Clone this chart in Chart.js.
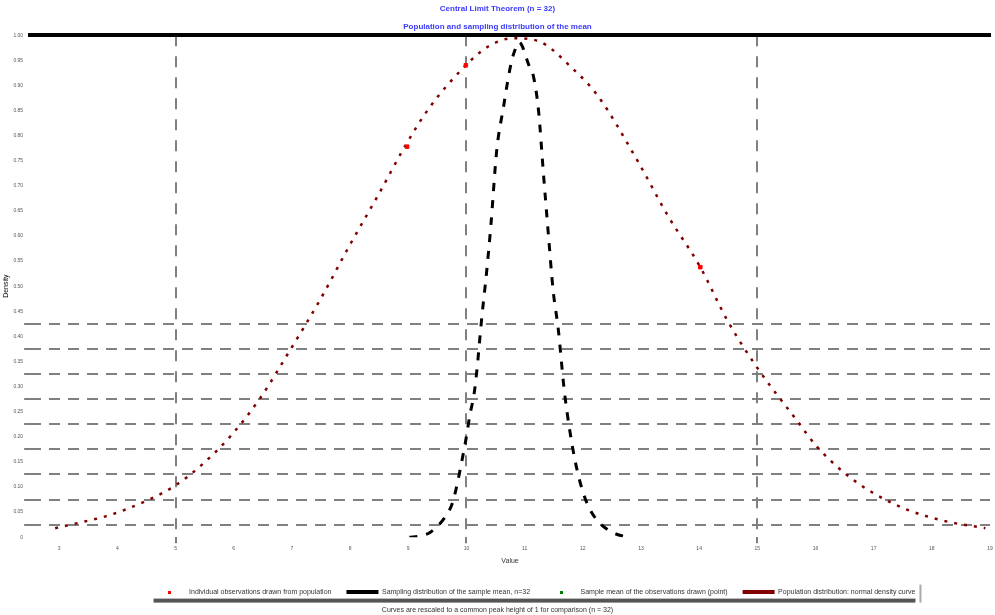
<!DOCTYPE html>
<html>
<head>
<meta charset="utf-8">
<script src="https://cdn.jsdelivr.net/npm/chart.js@4.4.0/dist/chart.umd.min.js"></script>
<style>
  html, body { margin: 0; padding: 0; background: #fff; }
  #wrap { width: 995px; height: 615px; }
</style>
</head>
<body>
<div id="wrap"><canvas id="myChart"></canvas></div>
<script>
// population curve
const popX = [2.93, 3.39, 3.81, 4.16, 4.58, 4.97, 5.44, 5.95, 6.46, 6.97, 7.48, 7.99, 8.51, 8.93, 9.36, 9.99,
  10.38, 10.81, 11.24, 11.83, 12.26, 12.94, 13.46, 14.02, 14.48, 14.99, 15.67, 16.02, 16.53, 16.95, 17.55, 18.23, 18.92];
const popY = [0.018, 0.030, 0.042, 0.056, 0.077, 0.101, 0.143, 0.202, 0.278, 0.373, 0.472, 0.581, 0.687, 0.776, 0.855, 0.940,
  0.978, 0.994, 0.988, 0.933, 0.879, 0.750, 0.641, 0.538, 0.433, 0.339, 0.234, 0.181, 0.125, 0.091, 0.056, 0.032, 0.018];

// sampling distribution of the mean
const meanX = [9.02, 9.19, 9.38, 9.62, 9.75, 9.82, 9.92, 9.99, 10.06, 10.13, 10.18, 10.26, 10.35, 10.42, 10.52, 10.64,
  10.71, 10.78, 10.84, 10.91, 10.96, 11.02, 11.08, 11.15, 11.24, 11.32, 11.41, 11.49, 11.58, 11.68, 11.78, 11.87,
  12.00, 12.12, 12.26, 12.47, 12.69, 12.77];
const meanY = [0.000, 0.002, 0.010, 0.038, 0.065, 0.095, 0.151, 0.194, 0.244, 0.284, 0.333, 0.433, 0.532, 0.621, 0.770, 0.859,
  0.909, 0.950, 0.972, 0.986, 0.978, 0.958, 0.938, 0.919, 0.849, 0.730, 0.601, 0.492, 0.413, 0.294, 0.210, 0.151,
  0.091, 0.056, 0.032, 0.012, 0.002, 0.000];

// single observations
const obsX = [8.98, 9.99, 14.02];
const obsY = [0.778, 0.940, 0.538];

// sample mean marker (not visible in the picture)
const sampleMeanX = [];
const sampleMeanY = [];

const gridX = [5, 10, 15];
const xMin = 2.5, xMax = 19;
const yStep = 0.05;

const titleLines = ['Central Limit Theorem (n = 32)', 'Population and sampling distribution of the mean'];
const footerText = 'Curves are rescaled to a common peak height of 1 for comparison (n = 32)';
const seriesNames = [
  'Individual observations drawn from population',
  'Sampling distribution of the sample mean, n=32',
  'Sample mean of the observations drawn (point)',
  'Population distribution: normal density curve'
];

const pts = (xs, ys) => xs.map((x, i) => ({ x: x, y: ys[i] }));

function dot(color, size) {
  const c = document.createElement('canvas');
  c.width = size; c.height = size;
  const g = c.getContext('2d');
  g.fillStyle = color;
  g.fillRect(0, 0, size, size);
  return c;
}

// legend sits a bit right of centre in the picture, with a bar under it
const legendShift = 37;
const legendUnderline = {
  id: 'legendUnderline',
  afterLayout(chart) {
    chart.legend.left += legendShift;
    chart.legend.right += legendShift;
  },
  afterDraw(chart) {
    const boxes = chart.legend && chart.legend.legendHitBoxes;
    if (!boxes || !boxes.length) return;
    const last = boxes[boxes.length - 1];
    const left = boxes[0].left;
    const right = last.left + last.width;
    const y = boxes[0].top + boxes[0].height + 3;
    const ctx = chart.ctx;
    ctx.save();
    ctx.fillStyle = '#555';
    ctx.fillRect(left, y, right - left, 4);
    ctx.fillStyle = '#aaa';
    ctx.fillRect(right + 4, y - 14, 2, 18);
    ctx.restore();
  }
};

const ctx = document.getElementById('myChart').getContext('2d');
const myChart = new Chart(ctx, {
  type: 'scatter',
  data: {
    datasets: [{
      label: seriesNames[0],
      data: pts(obsX, obsY),
      backgroundColor: '#ff0000',
      borderColor: '#ff0000',
      pointStyle: 'rect',
      pointRadius: 2.5,
      order: 0
    }, {
      label: seriesNames[1],
      data: pts(meanX, meanY),
      showLine: true,
      borderColor: '#000000',
      backgroundColor: '#000000',
      borderWidth: 3,
      borderDash: [8, 9],
      pointRadius: 0,
      cubicInterpolationMode: 'monotone',
      order: 1
    }, {
      label: seriesNames[2],
      data: pts(sampleMeanX, sampleMeanY),
      backgroundColor: '#008000',
      borderColor: '#008000',
      pointRadius: 2,
      order: 2
    }, {
      label: seriesNames[3],
      data: pts(popX, popY),
      showLine: true,
      borderColor: '#800000',
      backgroundColor: '#800000',
      borderWidth: 2.5,
      borderDash: [3, 7],
      pointRadius: 0,
      cubicInterpolationMode: 'monotone',
      order: 3
    }]
  },
  options: {
    responsive: true,
    maintainAspectRatio: false,
    animation: false,
    layout: { padding: { left: 0, right: 0, top: 0, bottom: 0 } },
    plugins: {
      title: {
        display: true,
        text: titleLines,
        color: '#3a3aff',
        font: { family: 'Liberation Sans', size: 8, lineHeight: 2.2 },
        padding: { top: 0, bottom: 0 }
      },
      subtitle: {
        display: true,
        position: 'bottom',
        text: footerText,
        color: '#333',
        font: { family: 'Liberation Sans', size: 7 },
        padding: { top: 0, bottom: 1 }
      },
      legend: {
        position: 'bottom',
        padding: 1,
        labels: {
          usePointStyle: true,
          pointStyleWidth: 32,
          boxHeight: 4,
          padding: 15,
          color: '#333',
          font: { family: 'Liberation Sans', size: 7 },
          generateLabels(chart) {
            const items = Chart.defaults.plugins.legend.labels.generateLabels(chart);
            items.forEach(it => {
              const ds = chart.data.datasets[it.datasetIndex];
              if (ds.showLine) {
                it.pointStyle = 'line';
                it.lineDash = [];
                it.lineWidth = 4;
                it.strokeStyle = ds.borderColor;
              } else {
                it.pointStyle = dot(ds.backgroundColor, 3);
              }
            });
            return items;
          }
        }
      },
      tooltip: { enabled: false }
    },
    scales: {
      x: {
        type: 'linear',
        min: xMin,
        max: xMax,
        afterFit: (scale) => { scale.paddingRight = 0; },
        ticks: {
          stepSize: 1,
          color: '#555',
          font: { size: 5 },
          padding: 2,
          callback: (v) => Number.isInteger(v) ? v : ''
        },
        title: { display: true, text: 'Value', color: '#333', font: { size: 7 }, padding: { top: 4, bottom: 8 } },
        grid: {
          lineWidth: 2,
          tickLength: 6,
          color: (c) => (c.tick && gridX.includes(c.tick.value)) ? '#808080' : 'rgba(0,0,0,0)'
        },
        border: { display: false, dash: [11, 10] }
      },
      x2: {
        type: 'linear',
        position: 'top',
        min: xMin,
        max: xMax,
        ticks: { display: false },
        grid: { display: false, drawTicks: false },
        border: { display: true, color: '#000', width: 4 }
      },
      y: {
        min: 0,
        max: 1,
        ticks: { stepSize: yStep, color: '#555', font: { size: 5 }, padding: 1 },
        title: { display: true, text: 'Density', color: '#000', font: { size: 7 }, padding: 2 },
        grid: {
          offset: true,
          lineWidth: 2,
          tickLength: 6,
          color: (c) => (c.index >= 1 && c.index <= 9) ? '#808080' : 'rgba(0,0,0,0)'
        },
        border: { display: false, dash: [11, 8] }
      }
    }
  },
  plugins: [legendUnderline]
});
</script>
</body>
</html>
